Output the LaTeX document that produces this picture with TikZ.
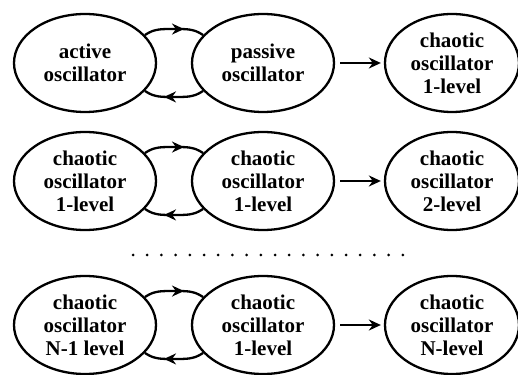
\documentclass[tikz,border=0pt]{standalone}
\usepackage{fontspec}
\setmainfont{Liberation Serif}
\newfontfamily\oscfont{Liberation Serif}
\usetikzlibrary{arrows.meta,shapes.geometric,calc}

\begin{document}
\begin{tikzpicture}[x=1pt,y=1pt,>={Stealth[length=12pt,width=11pt]},
  osc/.style={ellipse,draw,line width=2.3pt,inner sep=0pt,
    minimum width=142pt,minimum height=98pt,align=center,
    font=\oscfont\fontsize{21}{23}\selectfont\bfseries},
  link/.style={line width=2.3pt,->,shorten <=5pt,shorten >=3pt},
  loopline/.style={line width=2.3pt},
  tip/.style={line width=2.3pt,->}]
  \useasboundingbox (0,0) rectangle (518,374);
  % first row
  \node[osc] (act) at (85,311) {active\\oscillator};
  \node[osc] (pas) at (263,311) {passive\\oscillator};
  \node[osc,minimum width=134pt] (lvA) at (452,311) {chaotic\\oscillator\\1-level};
  \coordinate (upA) at ($(act.25)!0.5!(pas.155)+(0,6)$);
  \coordinate (dnA) at ($(act.335)!0.5!(pas.205)-(0,6)$);
  \draw[loopline] (act.25) to[out=35,in=180] (upA) to[out=0,in=145] (pas.155);
  \draw[loopline] (pas.205) to[out=215,in=0] (dnA) to[out=180,in=-35] (act.335);
  \draw[tip] ($(upA)-(2,0)$) -- ($(upA)+(10,0)$);
  \draw[tip] ($(dnA)+(2,0)$) -- ($(dnA)-(10,0)$);
  \draw[link] (pas.east) -- (lvA.west);
  % second row
  \node[osc] (chA) at (85,193) {chaotic\\oscillator\\1-level};
  \node[osc] (chB) at (263,193) {chaotic\\oscillator\\1-level};
  \node[osc,minimum width=134pt] (lvB) at (452,193) {chaotic\\oscillator\\2-level};
  \coordinate (upB) at ($(chA.25)!0.5!(chB.155)+(0,6)$);
  \coordinate (dnB) at ($(chA.335)!0.5!(chB.205)-(0,6)$);
  \draw[loopline] (chA.25) to[out=35,in=180] (upB) to[out=0,in=145] (chB.155);
  \draw[loopline] (chB.205) to[out=215,in=0] (dnB) to[out=180,in=-35] (chA.335);
  \draw[tip] ($(upB)-(2,0)$) -- ($(upB)+(10,0)$);
  \draw[tip] ($(dnB)+(2,0)$) -- ($(dnB)-(10,0)$);
  \draw[link] (chB.east) -- (lvB.west);
  % dots
  \foreach \i in {0,...,19}
    \fill (133+14.2*\i,119) circle (1.5pt);
  % last row
  \node[osc] (chC) at (85,49) {chaotic\\oscillator\\N-1 level};
  \node[osc] (chD) at (263,49) {chaotic\\oscillator\\1-level};
  \node[osc,minimum width=134pt] (lvN) at (452,49) {chaotic\\oscillator\\N-level};
  \coordinate (upC) at ($(chC.25)!0.5!(chD.155)+(0,6)$);
  \coordinate (dnC) at ($(chC.335)!0.5!(chD.205)-(0,6)$);
  \draw[loopline] (chC.25) to[out=35,in=180] (upC) to[out=0,in=145] (chD.155);
  \draw[loopline] (chD.205) to[out=215,in=0] (dnC) to[out=180,in=-35] (chC.335);
  \draw[tip] ($(upC)-(2,0)$) -- ($(upC)+(10,0)$);
  \draw[tip] ($(dnC)+(2,0)$) -- ($(dnC)-(10,0)$);
  \draw[link] (chD.east) -- (lvN.west);
\end{tikzpicture}
\end{document}
